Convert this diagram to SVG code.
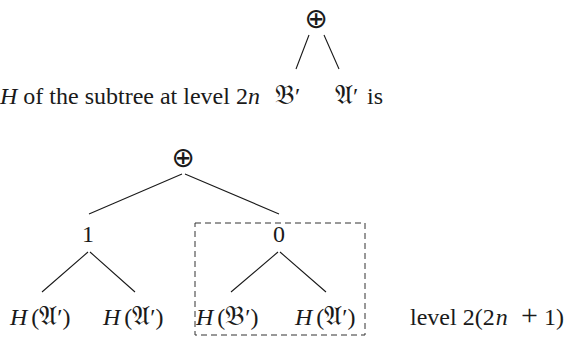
<svg xmlns="http://www.w3.org/2000/svg" width="572" height="337" viewBox="0 0 572 337">
<style>
text{font-family:"Liberation Serif","DejaVu Serif","Noto Sans",serif;font-size:24px;fill:#1a1a1a}
.i{font-style:italic}
.f{font-size:27px}
.op{font-family:"DejaVu Sans ExtraLight","DejaVu Sans",sans-serif;font-size:28px}
.e{stroke:#1a1a1a;stroke-width:1.1;fill:none}
.box{stroke:#333;stroke-width:1;fill:none;stroke-dasharray:6 4}
</style>
<rect width="572" height="337" fill="#fff"/>
<g id="caption">
<text x="0" y="104"><tspan class="i">H</tspan> of the subtree at level 2<tspan class="i">n</tspan></text>
<text x="275" y="104"><tspan class="f">𝔅</tspan>′</text>
<text x="335" y="104"><tspan class="f">𝔄</tspan>′</text>
<text x="367" y="104">is</text>
</g>
<g id="top-plus"><text class="op" x="316" y="28" text-anchor="middle">⊕</text></g>
<g id="root"><text class="op" x="183" y="167" text-anchor="middle">⊕</text></g>
<g id="n1"><text x="88" y="242" text-anchor="middle">1</text></g>
<g id="n0"><text x="279" y="242" text-anchor="middle">0</text></g>
<g id="leaf1"><text x="10" y="325"><tspan class="i">H</tspan><tspan dx="4">(</tspan><tspan class="f">𝔄</tspan>′)</text></g>
<g id="leaf2"><text x="103" y="325"><tspan class="i">H</tspan><tspan dx="4">(</tspan><tspan class="f">𝔄</tspan>′)</text></g>
<g id="leaf3"><text x="196" y="325"><tspan class="i">H</tspan><tspan dx="4">(</tspan><tspan class="f">𝔅</tspan>′)</text></g>
<g id="leaf4"><text x="295" y="325"><tspan class="i">H</tspan><tspan dx="4">(</tspan><tspan class="f">𝔄</tspan>′)</text></g>
<g id="level"><text x="410" y="325">level 2(2<tspan class="i" dx="1">n</tspan><tspan x="521" font-size="30">+</tspan><tspan x="544">1)</tspan></text></g>
<g id="connectors">
<path class="e" d="M309,35 L296,69 M324,35 L339,69"/>
<path class="e" d="M182,174 L89,214 M185,174 L279,214"/>
<path class="e" d="M88,252 L42,292 M90,252 L135,292"/>
<path class="e" d="M278,252 L231,292 M280,252 L326,292"/>
</g>
<g id="dashed-box"><rect class="box" x="195" y="223" width="170" height="112"/></g>
</svg>
